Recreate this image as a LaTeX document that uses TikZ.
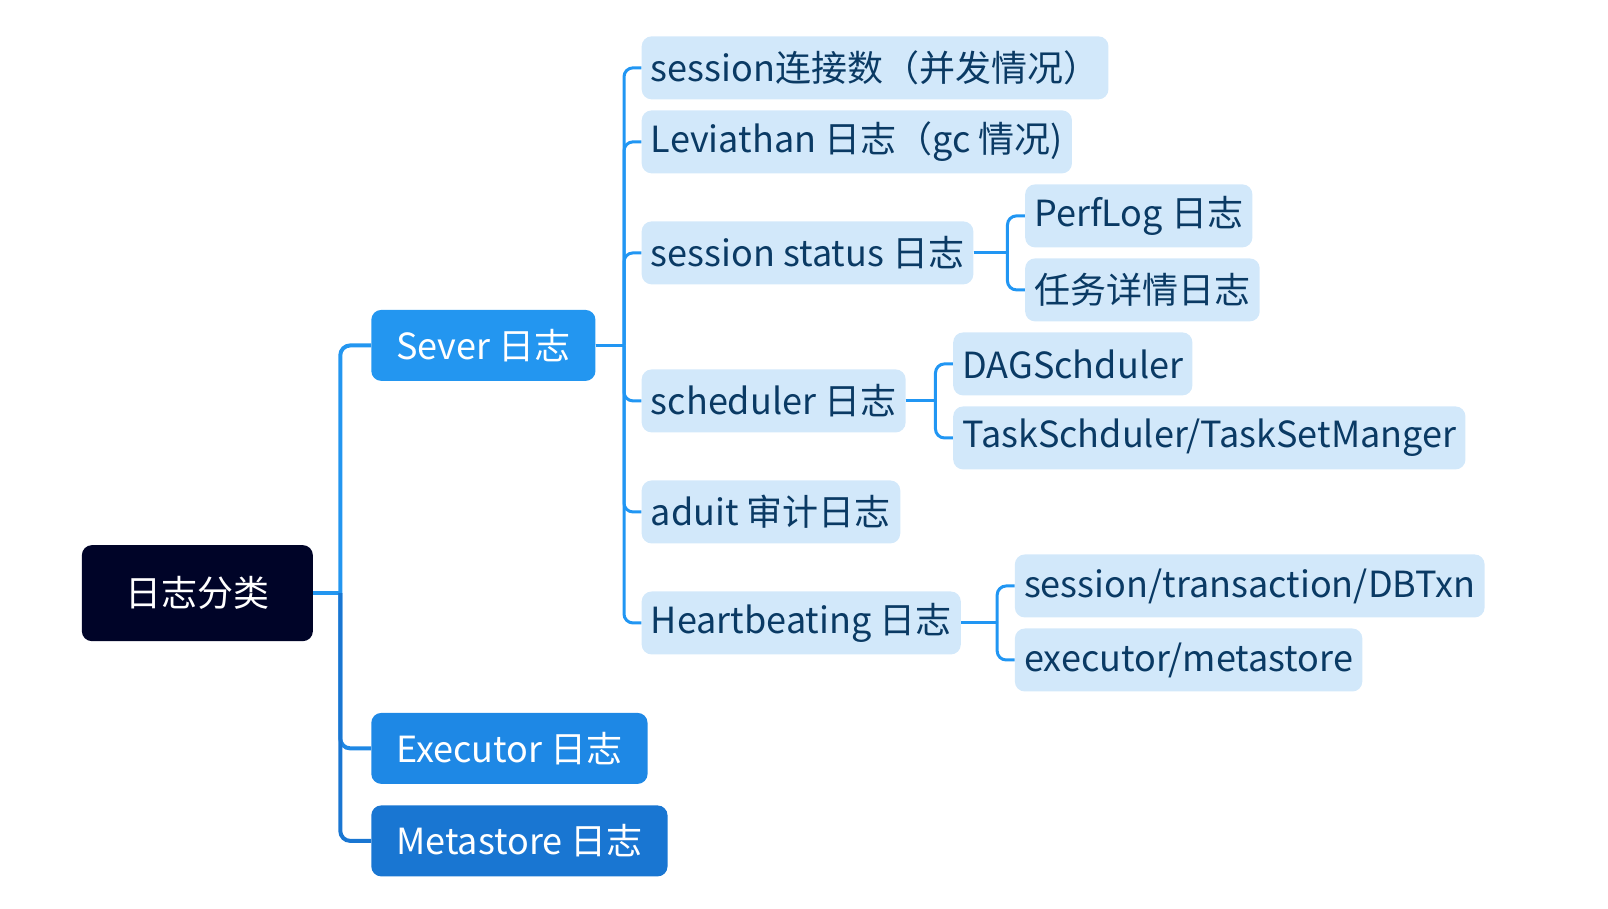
\documentclass[tikz,border=0pt]{standalone}
\usepackage{fontspec}
\setmainfont{Noto Sans CJK SC}
\definecolor{rootnavy}{RGB}{0,4,40}
\definecolor{severblue}{RGB}{35,150,240}
\definecolor{executorblue}{RGB}{30,136,229}
\definecolor{metastoreblue}{RGB}{25,118,210}
\definecolor{subfill}{RGB}{210,232,250}
\definecolor{subtext}{RGB}{10,58,100}
\definecolor{sublink}{RGB}{33,150,243}

\begin{document}
\begin{tikzpicture}
[x=1.028pt,y=-1.028pt,
  rootdecorate/.style={shape=rectangle,rounded corners=10pt,fill=rootnavy,text=white,%
    minimum width=231pt,minimum height=96pt,font=\fontsize{36}{43}\selectfont},%
  maindecorate/.style={shape=rectangle,rounded corners=10pt,text=white,anchor=west,%
    minimum height=71pt,inner xsep=25pt,font=\fontsize{36}{43}\selectfont},%
  subdecorate/.style={shape=rectangle,rounded corners=10pt,fill=subfill,text=subtext,anchor=west,%
    minimum height=63pt,inner xsep=9.3pt,font=\fontsize{36}{43}\selectfont},%
  rootline/.style={-,line width=4pt,rounded corners=10pt},%
  subline/.style={-,line width=3pt,rounded corners=9pt,color=sublink}]
\useasboundingbox (0,0) rectangle (1564.2,883.3);
%% root and first level
\node (root) at (192,577) [rootdecorate] {日志分类};
\node (sever) at (361,336) [maindecorate,fill=severblue] {Sever 日志};
\node (executor) at (361,728) [maindecorate,fill=executorblue] {Executor 日志};
\node (metastore) at (361,818) [maindecorate,fill=metastoreblue] {Metastore 日志};
%% second level
\foreach \nodename/\y/\label in {
  conn/66/session连接数（并发情况）, leviathan/138/Leviathan 日志（gc 情况),
  status/246/session status 日志, scheduler/390/scheduler 日志,
  aduit/498/aduit 审计日志, heartbeat/606/Heartbeating 日志}
{
  \node (\nodename) at (624,\y) [subdecorate] {\label};
}
%% third level
\node (perflog) at (997,210) [subdecorate] {PerfLog 日志};
\node (taskinfo) at (997,282) [subdecorate] {任务详情日志};
\node (dag) at (927,354) [subdecorate] {DAGSchduler};
\node (taskset) at (927,426) [subdecorate] {TaskSchduler/TaskSetManger};
\node (txn) at (987,570) [subdecorate] {session/transaction/DBTxn};
\node (execmeta) at (987,642) [subdecorate] {executor/metastore};
%% forks
\coordinate (rootfork) at (331,577);
\coordinate (severfork) at (607,336);
\coordinate (statusfork) at (980,246);
\coordinate (schedfork) at (910,390);
\coordinate (heartfork) at (970,606);
%% edges or lines
\draw[rootline,color=severblue] (root.east) -- (rootfork);
\draw[rootline,color=severblue] (rootfork) |- (sever.west);
\draw[rootline,color=executorblue] (rootfork) |- (executor.west);
\draw[rootline,color=metastoreblue] (rootfork) |- (metastore.west);
\foreach \startnode/\forkname/\endnode in {
  sever/severfork/conn, sever/severfork/leviathan, sever/severfork/status,
  sever/severfork/scheduler, sever/severfork/aduit, sever/severfork/heartbeat,
  status/statusfork/perflog, status/statusfork/taskinfo,
  scheduler/schedfork/dag, scheduler/schedfork/taskset,
  heartbeat/heartfork/txn, heartbeat/heartfork/execmeta}
{
  \draw[subline] (\startnode.east) -- (\forkname);
  \draw[subline] (\forkname) |- (\endnode.west);
}
\end{tikzpicture}
\end{document}
